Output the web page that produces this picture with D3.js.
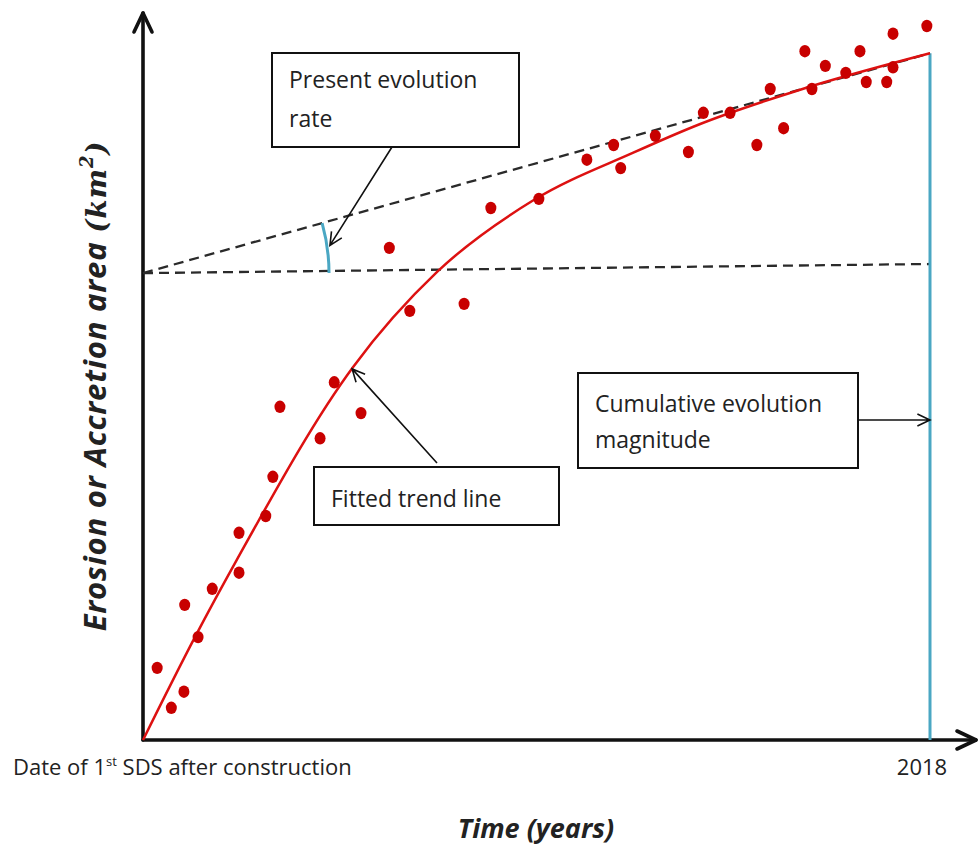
<!DOCTYPE html>
<html>
<head>
<meta charset="utf-8">
<script src="https://cdn.jsdelivr.net/npm/d3@7"></script>
<style>
  body { margin: 0; background: #fff; }
  svg { display: block; }
  .lbl { font-family: "Open Sans", Lato, sans-serif; fill: #222; }
</style>
</head>
<body>
<div id="chart"></div>
<script>
// observations (normalised time 0-100, normalised area 0-100)
const obsX = [1.8, 3.6, 5.2, 5.3, 7.0, 8.8, 12.2, 12.2, 15.6, 16.5, 17.4, 22.5, 24.3, 27.7,
    31.3, 33.9, 40.8, 44.2, 50.3, 56.4, 59.8, 60.7, 65.1, 69.3, 71.2, 74.6, 78.0, 79.7,
    81.4, 84.1, 85.0, 86.7, 89.3, 91.1, 91.9, 94.5, 95.3, 95.3, 99.6];
const obsY = [10.3, 4.6, 6.9, 19.3, 14.7, 21.6, 23.9, 29.6, 32.0, 37.6, 47.6, 43.1, 51.1, 46.7,
    70.3, 61.3, 62.3, 76.0, 77.3, 82.9, 85.0, 81.7, 86.3, 84.0, 89.6, 89.6, 85.0, 93.0,
    87.4, 98.4, 93.0, 96.3, 95.3, 98.4, 94.0, 94.0, 96.1, 100.9, 102.0];

// fitted trend line
const trendX = [0, 6.6, 11.9, 26.7, 37.4, 49.6, 62.3, 70.8, 83.5, 100];
const trendY = [0, 14.7, 25.7, 53.3, 66.9, 77.1, 83.9, 88.0, 92.9, 98.1];

// reference lines
const baseLevel = [66.7, 68.0];     // horizontal dashed line, start / end
const tangentLevel = [66.7, 98.1];  // present rate line, start / end
const endYear = "2018";

let width = 980,
    height = 845,
    x0 = 143, x1 = 930,
    yTop = 40, yBottom = 740;

let svg = d3.select("#chart").append("svg")
    .attr("width", width)
    .attr("height", height);

let xScale = d3.scaleLinear().domain([0, 100]).range([x0, x1]);
let yScale = d3.scaleLinear().domain([0, 100]).range([yBottom, yTop]);

// axes
// ------------------------------------------------------
let axisG = svg.append("g")
    .attr("stroke", "#111")
    .attr("stroke-width", 3.6)
    .attr("fill", "none")
    .attr("stroke-linecap", "round")
    .attr("stroke-linejoin", "round");

axisG.append("line")
    .attr("x1", xScale(0)).attr("y1", yScale(0))
    .attr("x2", xScale(0)).attr("y2", 13);
axisG.append("path")
    .attr("d", `M${xScale(0) - 9},32 L${xScale(0)},13 L${xScale(0) + 9},32`);

axisG.append("line")
    .attr("x1", xScale(0)).attr("y1", yScale(0))
    .attr("x2", 976).attr("y2", yScale(0));
axisG.append("path")
    .attr("d", `M957,${yScale(0) - 9} L976,${yScale(0)} L957,${yScale(0) + 9}`);

// dashed reference lines
// ------------------------------------------------------
let dashG = svg.append("g")
    .attr("stroke", "#2a2a2a")
    .attr("stroke-width", 2.3)
    .attr("stroke-dasharray", "10,6");

dashG.append("line")
    .attr("x1", xScale(0)).attr("y1", yScale(baseLevel[0]))
    .attr("x2", xScale(100)).attr("y2", yScale(baseLevel[1]));
dashG.append("line")
    .attr("x1", xScale(0)).attr("y1", yScale(tangentLevel[0]))
    .attr("x2", xScale(100)).attr("y2", yScale(tangentLevel[1]));

// blue vertical line at the end year
svg.append("line")
    .attr("x1", xScale(100)).attr("y1", yScale(0))
    .attr("x2", xScale(100)).attr("y2", yScale(trendY[trendY.length - 1]))
    .attr("stroke", "#4aa7c3")
    .attr("stroke-width", 3);

// angle arc between the two dashed lines
let cx = xScale(0), cy = yScale(baseLevel[0]);
let ang = Math.atan2(yScale(tangentLevel[0]) - yScale(tangentLevel[1]), xScale(100) - xScale(0));
let r = 186;
svg.append("path")
    .attr("d", d3.arc()({innerRadius: r, outerRadius: r, startAngle: Math.PI / 2 - ang, endAngle: Math.PI / 2}))
    .attr("transform", `translate(${cx},${cy})`)
    .attr("fill", "none")
    .attr("stroke", "#4aa7c3")
    .attr("stroke-width", 3);

// trend line + points
// ------------------------------------------------------
let trend = d3.line()
    .x(d => xScale(d[0]))
    .y(d => yScale(d[1]))
    .curve(d3.curveMonotoneX);

svg.append("path")
    .datum(d3.zip(trendX, trendY))
    .attr("d", trend)
    .attr("fill", "none")
    .attr("stroke", "#dd1111")
    .attr("stroke-width", 2.5);

svg.selectAll(".point")
    .data(d3.zip(obsX, obsY))
    .enter()
    .append("ellipse")
        .attr("class", "point")
        .attr("cx", d => xScale(d[0]))
        .attr("cy", d => yScale(d[1]))
        .attr("rx", 5.5)
        .attr("ry", 6.2)
        .attr("fill", "#c80000");

// annotation boxes
// ------------------------------------------------------
function box(x, y, w, h, lines, baseline0, lineGap) {
    svg.append("rect")
        .attr("x", x).attr("y", y)
        .attr("width", w).attr("height", h)
        .attr("fill", "#fff")
        .attr("stroke", "#111")
        .attr("stroke-width", 2);
    lines.forEach((t, i) => {
        svg.append("text")
            .attr("class", "lbl")
            .attr("x", x + 17)
            .attr("y", y + baseline0 + i * lineGap)
            .attr("font-size", 23)
            .text(t);
    });
}

function arrow(xa, ya, xb, yb) {
    let a = Math.atan2(yb - ya, xb - xa), L = 14, s = 0.45;
    svg.append("path")
        .attr("d", `M${xa},${ya} L${xb},${yb} M${xb - L * Math.cos(a - s)},${yb - L * Math.sin(a - s)} L${xb},${yb} L${xb - L * Math.cos(a + s)},${yb - L * Math.sin(a + s)}`)
        .attr("fill", "none")
        .attr("stroke", "#111")
        .attr("stroke-width", 1.6);
}

box(272, 53, 247, 94, ["Present evolution", "rate"], 35, 39);
arrow(392, 147, cx + r * Math.cos(ang * 0.55) + 3, cy - r * Math.sin(ang * 0.55));

box(578, 373, 280, 95, ["Cumulative evolution", "magnitude"], 39, 36);
arrow(858, 420, xScale(100), 420);

box(314, 467, 245, 58, ["Fitted trend line"], 40, 0);
arrow(437, 463, xScale(26.7) - 1, yScale(53.3) + 2);

// axis labels
// ------------------------------------------------------
let startLbl = svg.append("text")
    .attr("class", "lbl")
    .attr("x", 13)
    .attr("y", 775)
    .attr("font-size", 22);
startLbl.append("tspan").text("Date of 1");
startLbl.append("tspan").attr("font-size", 13).attr("dy", -9).text("st");
startLbl.append("tspan").attr("dy", 9).text(" SDS after construction");

svg.append("text")
    .attr("class", "lbl")
    .attr("x", xScale(100) - 8)
    .attr("y", 775)
    .attr("font-size", 22)
    .attr("text-anchor", "middle")
    .text(endYear);

svg.append("text")
    .attr("class", "lbl")
    .attr("x", 536)
    .attr("y", 838)
    .attr("font-size", 27)
    .attr("font-weight", "bold")
    .attr("font-style", "italic")
    .attr("text-anchor", "middle")
    .text("Time (years)");

let yLbl = svg.append("text")
    .attr("class", "lbl")
    .attr("transform", "translate(106,386) rotate(-90)")
    .attr("font-size", 31)
    .attr("font-weight", "bold")
    .attr("font-style", "italic")
    .attr("letter-spacing", 0.8)
    .attr("text-anchor", "middle");
yLbl.append("tspan").text("Erosion or Accretion area ");
yLbl.append("tspan").attr("font-family", "'DejaVu Serif', serif").attr("font-size", 28).text("(km");
yLbl.append("tspan").attr("font-family", "'DejaVu Serif', serif").attr("font-size", 18).attr("dy", -13).text("2");
yLbl.append("tspan").attr("font-family", "'DejaVu Serif', serif").attr("font-size", 28).attr("dy", 13).text(")");
</script>
</body>
</html>
